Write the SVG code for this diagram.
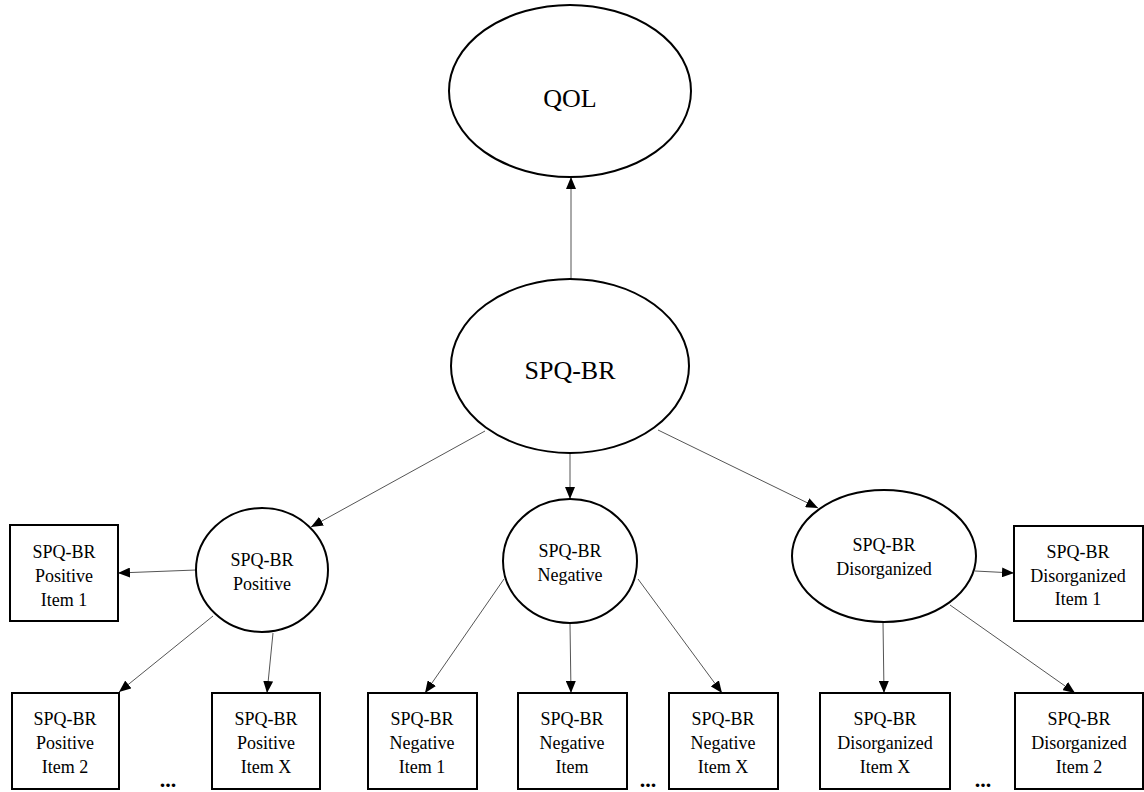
<svg xmlns="http://www.w3.org/2000/svg" width="1144" height="792" viewBox="0 0 1144 792">
<style>
.shape{fill:#fff;stroke:#000;stroke-width:2}
.big{font-family:"Liberation Serif","Times New Roman",serif;font-size:26px;text-anchor:middle;fill:#000}
.sm{font-family:"Liberation Serif","Times New Roman",serif;font-size:18px;text-anchor:middle;fill:#000}
.dots{font-family:"Liberation Serif","Times New Roman",serif;font-size:22px;font-weight:bold;text-anchor:middle;fill:#000}
.conn{stroke:#555;stroke-width:1;fill:none;marker-end:url(#arr)}
</style>
<defs>
<marker id="arr" markerWidth="12" markerHeight="10" refX="12" refY="5" orient="auto" markerUnits="userSpaceOnUse">
<path d="M0,0 L12,5 L0,10 Z" fill="#000"/>
</marker>
</defs>
<rect width="1144" height="792" fill="#fff"/>
<g id="connectors">
<line class="conn" x1="571" y1="279" x2="571" y2="177"/>
<line class="conn" x1="485" y1="431" x2="311" y2="527"/>
<line class="conn" x1="570" y1="453" x2="570" y2="499"/>
<line class="conn" x1="658" y1="430" x2="818" y2="508"/>
<line class="conn" x1="196" y1="570" x2="118" y2="573"/>
<line class="conn" x1="213" y1="616" x2="119" y2="692"/>
<line class="conn" x1="273" y1="633" x2="267" y2="693"/>
<line class="conn" x1="504" y1="579" x2="425" y2="693"/>
<line class="conn" x1="570" y1="624" x2="571" y2="693"/>
<line class="conn" x1="638" y1="579" x2="722" y2="693"/>
<line class="conn" x1="975" y1="571" x2="1014" y2="573"/>
<line class="conn" x1="883" y1="622" x2="884" y2="693"/>
<line class="conn" x1="950" y1="605" x2="1075" y2="693"/>
</g>
<g id="qol">
<ellipse class="shape" cx="570" cy="91" rx="121" ry="86"/>
<text class="big" x="570" y="107">QOL</text>
</g>
<g id="spqbr">
<ellipse class="shape" cx="570" cy="366" rx="119" ry="87"/>
<text class="big" x="570" y="379">SPQ-BR</text>
</g>
<g id="positive">
<ellipse class="shape" cx="262" cy="570" rx="66" ry="62"/>
<text class="sm" x="262" y="566">SPQ-BR</text>
<text class="sm" x="262" y="590">Positive</text>
</g>
<g id="negative">
<ellipse class="shape" cx="570" cy="561" rx="67" ry="62"/>
<text class="sm" x="570" y="557">SPQ-BR</text>
<text class="sm" x="570" y="581">Negative</text>
</g>
<g id="disorganized">
<ellipse class="shape" cx="884" cy="556" rx="92" ry="66"/>
<text class="sm" x="884" y="551">SPQ-BR</text>
<text class="sm" x="884" y="575">Disorganized</text>
</g>
<g id="pos-item1">
<rect class="shape" x="10" y="525" width="108" height="96"/>
<text class="sm" x="64" y="558">SPQ-BR</text>
<text class="sm" x="64" y="582">Positive</text>
<text class="sm" x="64" y="606">Item 1</text>
</g>
<g id="pos-item2">
<rect class="shape" x="12" y="693" width="107" height="96"/>
<text class="sm" x="65" y="725">SPQ-BR</text>
<text class="sm" x="65" y="749">Positive</text>
<text class="sm" x="65" y="773">Item 2</text>
</g>
<g id="pos-itemx">
<rect class="shape" x="212" y="693" width="108" height="96"/>
<text class="sm" x="266" y="725">SPQ-BR</text>
<text class="sm" x="266" y="749">Positive</text>
<text class="sm" x="266" y="773">Item X</text>
</g>
<g id="neg-item1">
<rect class="shape" x="368" y="693" width="109" height="96"/>
<text class="sm" x="422" y="725">SPQ-BR</text>
<text class="sm" x="422" y="749">Negative</text>
<text class="sm" x="422" y="773">Item 1</text>
</g>
<g id="neg-item">
<rect class="shape" x="518" y="693" width="109" height="96"/>
<text class="sm" x="572" y="725">SPQ-BR</text>
<text class="sm" x="572" y="749">Negative</text>
<text class="sm" x="572" y="773">Item</text>
</g>
<g id="neg-itemx">
<rect class="shape" x="669" y="693" width="109" height="96"/>
<text class="sm" x="723" y="725">SPQ-BR</text>
<text class="sm" x="723" y="749">Negative</text>
<text class="sm" x="723" y="773">Item X</text>
</g>
<g id="dis-item1">
<rect class="shape" x="1014" y="526" width="129" height="95"/>
<text class="sm" x="1078" y="558">SPQ-BR</text>
<text class="sm" x="1078" y="582">Disorganized</text>
<text class="sm" x="1078" y="605">Item 1</text>
</g>
<g id="dis-itemx">
<rect class="shape" x="820" y="693" width="130" height="96"/>
<text class="sm" x="885" y="725">SPQ-BR</text>
<text class="sm" x="885" y="749">Disorganized</text>
<text class="sm" x="885" y="773">Item X</text>
</g>
<g id="dis-item2">
<rect class="shape" x="1015" y="693" width="128" height="96"/>
<text class="sm" x="1079" y="725">SPQ-BR</text>
<text class="sm" x="1079" y="749">Disorganized</text>
<text class="sm" x="1079" y="773">Item 2</text>
</g>
<g id="ellipses-dots">
<text class="dots" x="168" y="787">...</text>
<text class="dots" x="648" y="787">...</text>
<text class="dots" x="983" y="787">...</text>
</g>
</svg>
